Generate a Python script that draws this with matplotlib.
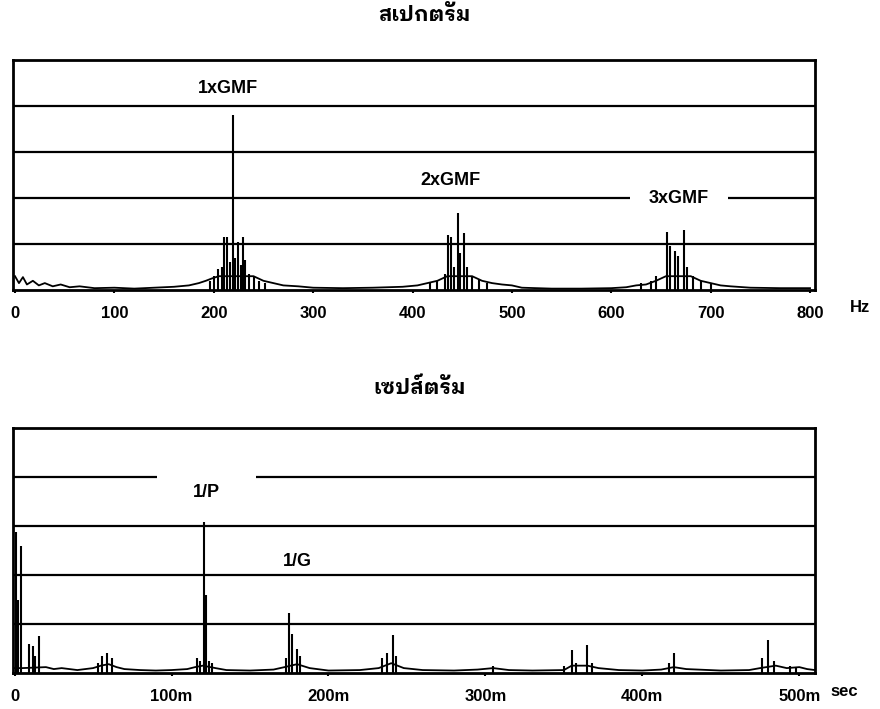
import matplotlib
matplotlib.use('Agg')
import matplotlib.pyplot as plt

# ---------------- data ----------------
spec_title = "สเปกตรัม"
ceps_title = "เซปส์ตรัม"

spec_ticks = [0, 100, 200, 300, 400, 500, 600, 700, 800]
spec_ticklabels = ["0", "100", "200", "300", "400", "500", "600", "700", "800"]
ceps_ticks = [0, 100, 200, 300, 400, 500]
ceps_ticklabels = ["0", "100m", "200m", "300m", "400m", "500m"]

# spectrum noise floor (Hz, divisions)
spec_floor_hz = [0, 4, 8, 12, 18, 24, 30, 38, 46, 55, 65, 80, 100, 120, 140, 160, 175, 185,
                 192, 198, 205, 215, 225, 240, 250, 260, 270, 285, 300, 330, 360, 390, 405,
                 415, 425, 435, 450, 460, 470, 480, 490, 500, 510, 540, 570, 600, 615, 625,
                 635, 645, 655, 670, 680, 690, 700, 710, 720, 740, 770, 800]
spec_floor_amp = [0.30, 0.15, 0.28, 0.12, 0.20, 0.10, 0.15, 0.08, 0.12, 0.06, 0.08, 0.04, 0.05,
                  0.03, 0.05, 0.07, 0.10, 0.15, 0.20, 0.25, 0.30, 0.30, 0.30, 0.30, 0.20, 0.15,
                  0.10, 0.08, 0.05, 0.04, 0.05, 0.07, 0.10, 0.15, 0.20, 0.30, 0.30, 0.30, 0.20,
                  0.15, 0.12, 0.10, 0.05, 0.03, 0.03, 0.04, 0.06, 0.10, 0.12, 0.20, 0.30, 0.30,
                  0.30, 0.20, 0.15, 0.10, 0.08, 0.05, 0.04, 0.04]
# spectrum lines (Hz, divisions)
spec_peak_hz = [196, 200, 204, 208, 210, 213, 216, 219, 221, 224, 227, 229, 231, 235, 240, 246, 252,
                418, 425, 433, 436, 439, 442, 446, 448, 452, 455, 460, 467, 475,
                630, 640, 645, 656, 659, 664, 667, 673, 676, 682, 690, 700]
spec_peak_amp = [0.20, 0.30, 0.45, 0.50, 1.15, 1.15, 0.60, 3.80, 0.70, 1.05, 0.55, 1.15, 0.65, 0.35, 0.30, 0.20, 0.15,
                 0.15, 0.20, 0.35, 1.20, 1.15, 0.50, 1.67, 0.80, 1.24, 0.50, 0.30, 0.25, 0.15,
                 0.15, 0.20, 0.30, 1.26, 0.95, 0.85, 0.75, 1.30, 0.50, 0.30, 0.20, 0.12]

# cepstrum floor (ms, divisions)
ceps_floor_ms = [0, 5, 20, 25, 30, 40, 50, 55, 60, 65, 70, 80, 90, 100, 110, 115, 120, 128, 135,
                 150, 165, 172, 180, 188, 200, 220, 232, 240, 248, 260, 280, 295, 305, 315, 330,
                 350, 355, 365, 372, 385, 400, 412, 420, 428, 450, 468, 475, 485, 492, 500, 505, 510]
ceps_floor_amp = [0.10, 0.10, 0.12, 0.08, 0.10, 0.06, 0.10, 0.15, 0.18, 0.12, 0.08, 0.06, 0.05,
                  0.06, 0.08, 0.12, 0.15, 0.10, 0.06, 0.05, 0.07, 0.12, 0.18, 0.10, 0.05, 0.06,
                  0.10, 0.20, 0.10, 0.06, 0.05, 0.07, 0.10, 0.06, 0.05, 0.06, 0.15, 0.15, 0.10,
                  0.06, 0.05, 0.07, 0.12, 0.08, 0.05, 0.06, 0.10, 0.15, 0.10, 0.12, 0.08, 0.06]
# cepstrum rahmonics (ms, divisions)
ceps_peak_ms = [0.6, 2.2, 3.8, 9.5, 11.5, 13.0, 15.3, 53, 56, 59, 62, 116, 118, 121, 122, 124, 126,
                173, 175, 177, 180, 182, 234, 237, 241, 243, 305, 350, 355, 358, 365, 368,
                417, 420, 476, 480, 484, 494, 498]
ceps_peak_amp = [2.88, 1.50, 2.60, 0.60, 0.55, 0.35, 0.75, 0.20, 0.35, 0.40, 0.30, 0.30, 0.25, 3.08, 1.60, 0.25, 0.20,
                 0.30, 1.22, 0.80, 0.50, 0.35, 0.30, 0.40, 0.78, 0.35, 0.15, 0.15, 0.47, 0.20, 0.57, 0.20,
                 0.20, 0.40, 0.30, 0.67, 0.25, 0.15, 0.12]

# ---------------- figure ----------------
FONT = 'Liberation Sans'
THAI = ['IBM Plex Sans Thai Looped', 'IBM Plex Sans Thai', 'DejaVu Sans']

fig = plt.figure(figsize=(8.8, 7.09), dpi=100)
fig.patch.set_facecolor('white')

W, H = 880.0, 709.0
def box(l, t, r, b):
    return [l / W, 1 - b / H, (r - l) / W, (b - t) / H]

ax1 = fig.add_axes(box(13, 60, 815, 290))
ax2 = fig.add_axes(box(13, 428, 815, 673))

def style(ax, xlim, ticks, labels):
    ax.set_xlim(*xlim)
    ax.set_ylim(0, 5)
    ax.set_yticks([])
    ax.set_xticks(ticks)
    ax.set_xticklabels(labels, fontfamily=FONT, fontweight='bold', fontsize=12)
    ax.tick_params(axis='x', length=2.5, width=1.5, pad=9, direction='out')
    for s in ax.spines.values():
        s.set_linewidth(2.0)
        s.set_color('black')

# top: spectrum
style(ax1, (-2, 805), spec_ticks, spec_ticklabels)
ax1.hlines([1, 3, 4], -2, 805, color='black', lw=1.6)
ax1.hlines([2, 2], [-2, 717], [619, 805], color='black', lw=1.6)
ax1.plot(spec_floor_hz, spec_floor_amp, color='black', lw=1.3)
ax1.vlines(spec_peak_hz, 0, spec_peak_amp, color='black', lw=1.5)
ax1.text(214, 4.39, "1xGMF", ha='center', va='center', fontfamily=FONT, fontweight='bold', fontsize=13)
ax1.text(438, 2.39, "2xGMF", ha='center', va='center', fontfamily=FONT, fontweight='bold', fontsize=13)
ax1.text(668, 2.0, "3xGMF", ha='center', va='center', fontfamily=FONT, fontweight='bold', fontsize=13)
fig.text(850 / W, 1 - 308 / H, "Hz", ha='left', va='center', fontfamily=FONT, fontweight='bold', fontsize=12)

# bottom: cepstrum
style(ax2, (-1, 510), ceps_ticks, ceps_ticklabels)
ax2.hlines([1, 2, 3], -1, 510, color='black', lw=1.6)
ax2.hlines([4, 4], [-1, 154], [91, 510], color='black', lw=1.6)
ax2.plot(ceps_floor_ms, ceps_floor_amp, color='black', lw=1.3)
ax2.vlines(ceps_peak_ms, 0, ceps_peak_amp, color='black', lw=1.5)
ax2.text(122, 3.69, "1/P", ha='center', va='center', fontfamily=FONT, fontweight='bold', fontsize=13)
ax2.text(180, 2.27, "1/G", ha='center', va='center', fontfamily=FONT, fontweight='bold', fontsize=13)
fig.text(830 / W, 1 - 692 / H, "sec", ha='left', va='center', fontfamily=FONT, fontweight='bold', fontsize=12)

fig.text(425 / W, 1 - 15 / H, spec_title, ha='center', va='center', family=THAI, fontweight='bold', fontsize=15)
fig.text(420 / W, 1 - 388 / H, ceps_title, ha='center', va='center', family=THAI, fontweight='bold', fontsize=15)

fig.savefig('out.png', dpi=100, facecolor='white')
